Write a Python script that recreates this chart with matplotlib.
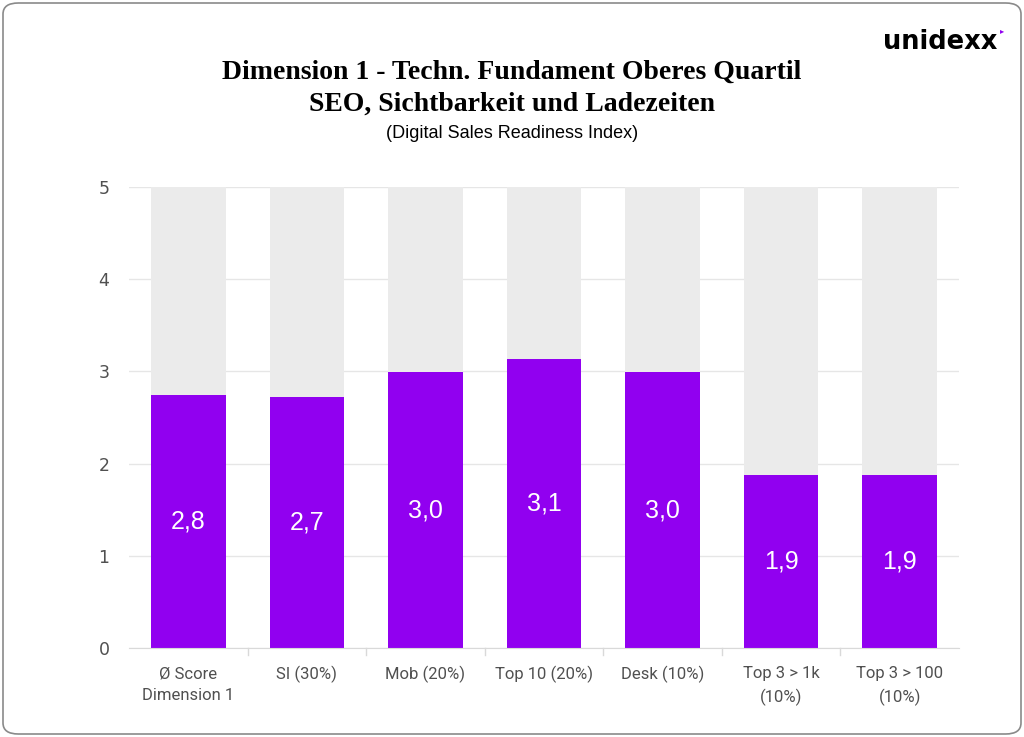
import numpy as np
import matplotlib.pyplot as plt
from matplotlib.patches import FancyBboxPatch

categories = ['Ø Score\nDimension 1', 'SI (30%)', 'Mob (20%)', 'Top 10 (20%)',
              'Desk (10%)', 'Top 3 > 1k\n(10%)', 'Top 3 > 100\n(10%)']
values = [2.74, 2.72, 2.99, 3.13, 2.99, 1.88, 1.88]
labels = ['2,8', '2,7', '3,0', '3,1', '3,0', '1,9', '1,9']
max_score = 5

purple = '#9100f0'
grey_bg = '#ebebeb'

fig = plt.figure(figsize=(10.24, 7.37), dpi=100)
ax = fig.add_axes([129/1024, 1 - 648/737, 830/1024, 461/737])

x = np.arange(len(categories))
width = 0.63
ax.bar(x, [max_score] * len(x), width=width, color=grey_bg, zorder=1)
ax.bar(x, values, width=width, color=purple, zorder=2)
for xi, v, lab in zip(x, values, labels):
    ax.text(xi, v / 2, lab, ha='center', va='center', color='white',
            fontsize=18, family='Liberation Sans', zorder=3)

ax.set_xlim(-0.5, len(x) - 0.5)
ax.set_ylim(0, 5)
ax.set_yticks(range(0, 6))
ax.set_xticks(x)
ax.set_xticklabels(categories, family='Roboto', fontsize=12, color='#505050',
                   linespacing=1.55)
for t in ax.get_yticklabels():
    t.set_family('DejaVu Sans')
    t.set_fontsize(12.5)
    t.set_color('#505050')
ax.tick_params(axis='y', length=0, pad=14)
ax.tick_params(axis='x', length=0, pad=13)
ax.grid(axis='y', color='#e6e6e6', linewidth=1, zorder=0)
ax.set_axisbelow(True)
for s in ['top', 'right', 'left']:
    ax.spines[s].set_visible(False)
ax.spines['bottom'].set_color('#d9d9d9')

# separators between categories under the axis
for b in np.arange(0.5, len(x) - 0.5, 1):
    ax.plot([b, b], [0, -0.08], color='#d9d9d9', lw=1, clip_on=False)

fig.text(0.5, 1 - 72/737, 'Dimension 1 - Techn. Fundament Oberes Quartil',
         ha='center', va='center', fontsize=20, fontweight='bold',
         family='Liberation Serif')
fig.text(0.5, 1 - 104/737, 'SEO, Sichtbarkeit und Ladezeiten',
         ha='center', va='center', fontsize=20, fontweight='bold',
         family='Liberation Serif')
fig.text(0.5, 1 - 133/737, '(Digital Sales Readiness Index)',
         ha='center', va='center', fontsize=13, family='Liberation Sans')

fig.text(940/1024, 1 - 42/737, 'unidexx', ha='center', va='center',
         fontsize=18.5, fontweight='bold', family='DejaVu Sans')
fig.text(1002/1024, 1 - 31/737, '▸', ha='center', va='center',
         fontsize=6, color=purple, family='DejaVu Sans')

border = FancyBboxPatch((3/1024, 3/737), 1 - 6/1024, 1 - 6/737,
                        boxstyle='round,pad=0,rounding_size=0.015',
                        transform=fig.transFigure, fill=False,
                        edgecolor='#8a8a8a', linewidth=1.2)
fig.patches.append(border)

fig.savefig('out.png', dpi=100)
